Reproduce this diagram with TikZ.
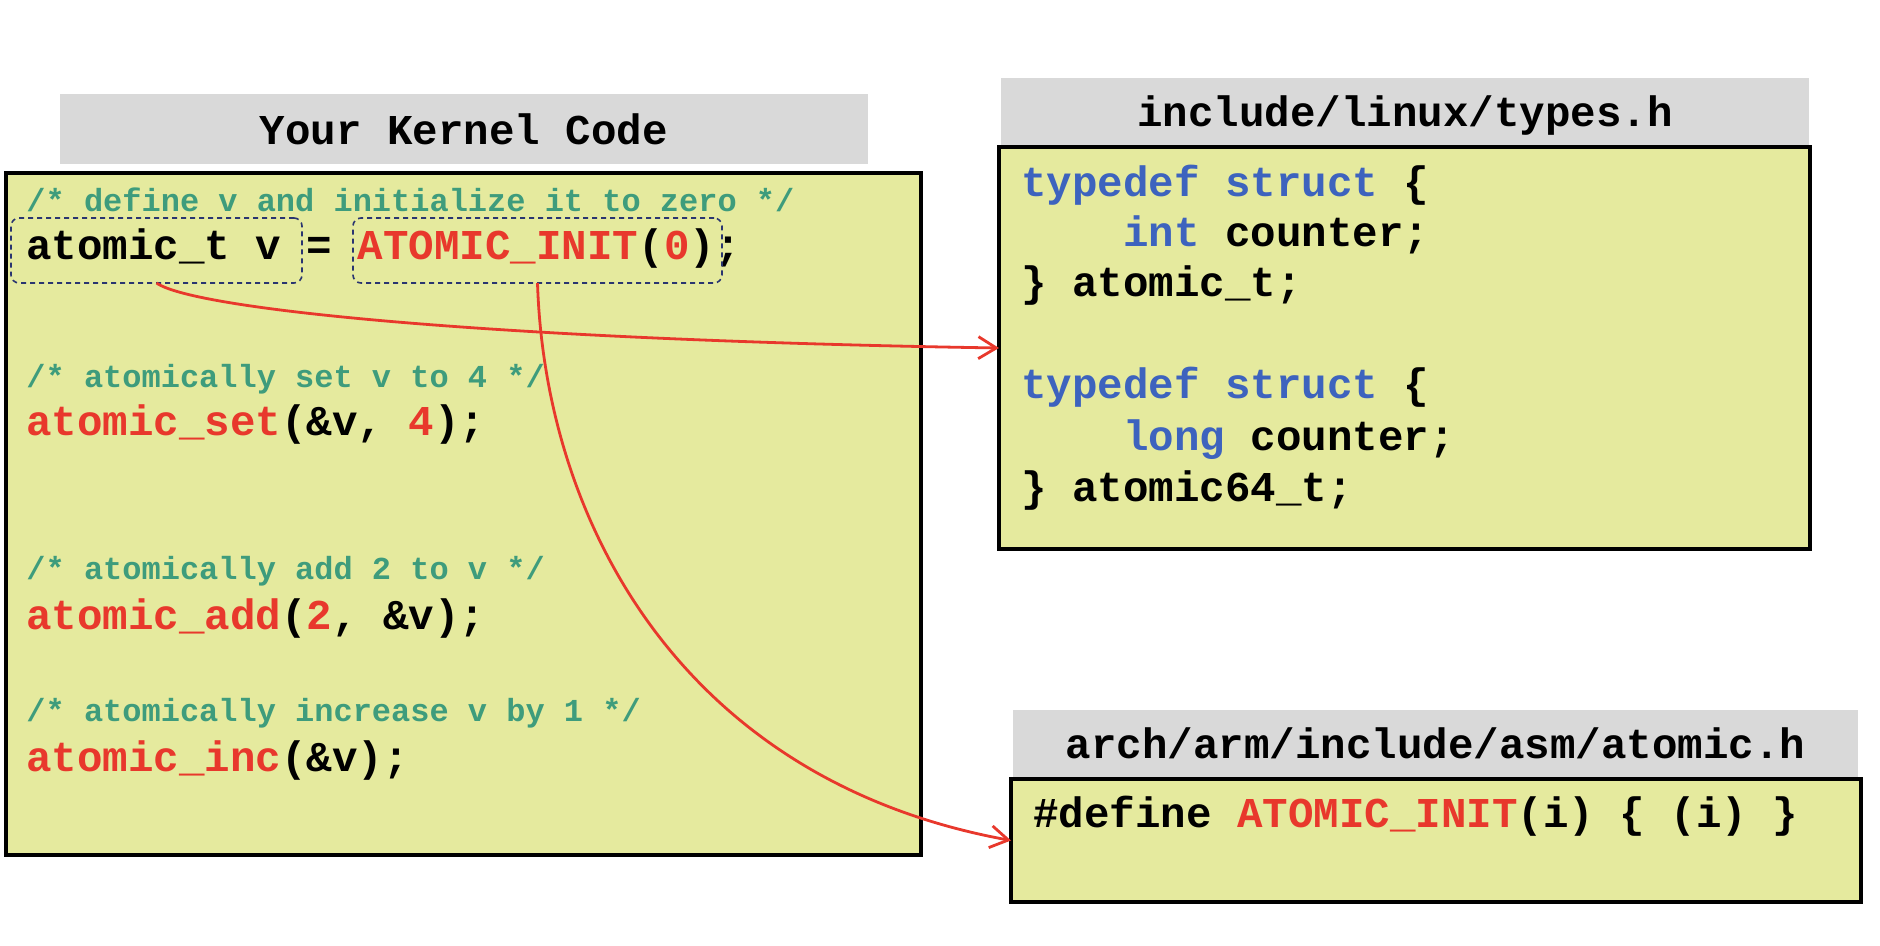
\documentclass[tikz,border=0pt]{standalone}
\usepackage{fontspec}
\setmonofont{Liberation Mono}
\usetikzlibrary{arrows.meta}
\definecolor{panelfill}{HTML}{E5EA9E}
\definecolor{headfill}{HTML}{D9D9D9}
\definecolor{cgreen}{HTML}{3E9C7C}
\definecolor{cred}{HTML}{E8382C}
\definecolor{cblue}{HTML}{3D63BE}
\definecolor{cnavy}{HTML}{2A3570}
\newcommand{\R}[1]{\textcolor{cred}{#1}}
\newcommand{\B}[1]{\textcolor{cblue}{#1}}
\tikzset{
  panel/.style={draw=black, line width=2.2pt, fill=panelfill, inner sep=0pt, outer sep=0pt},
  header/.style={fill=headfill, inner sep=0pt, outer sep=0pt},
  headtext/.style={inner sep=0pt, font=\fontsize{21.25}{24}\selectfont\ttfamily\bfseries},
  code/.style={anchor=base west, inner sep=0pt, font=\fontsize{21.25}{24}\selectfont\ttfamily\bfseries\frenchspacing},
  comment/.style={anchor=base west, inner sep=0pt, text=cgreen, font=\fontsize{16}{19}\selectfont\ttfamily\bfseries\frenchspacing},
  hl/.style={draw=cnavy, dash pattern=on 2.5pt off 2pt, line width=0.8pt, rounded corners=4pt, inner sep=0pt, outer sep=0pt},
  link/.style={draw=cred, line width=1.4pt, -{Straight Barb[length=9pt,width=11pt,line width=1.4pt]}}
}
\begin{document}
\begin{tikzpicture}[x=0.5pt,y=-0.5pt]
\useasboundingbox (0,0) rectangle (1880,946);
% headers
\node[header, minimum width=404pt, minimum height=35pt] (khead) at (464,129) {};
\node[headtext] (kheadt) at (khead.center) {Your Kernel Code};
\node[header, minimum width=404pt, minimum height=33.5pt] (thead) at (1405,111.5) {};
\node[headtext, yshift=-2pt] (theadt) at (thead.center) {include/linux/types.h};
\node[header, minimum width=422.5pt, minimum height=33.5pt] (ahead) at (1435.5,743.5) {};
\node[headtext] (aheadt) at (ahead.center) {arch/arm/include/asm/atomic.h};
% panels
\node[panel, minimum width=457.5pt, minimum height=341pt] (kbox) at (463.5,514) {};
\node[panel, minimum width=405.5pt, minimum height=201pt] (tbox) at (1404.5,348) {};
\node[panel, minimum width=425pt, minimum height=61.5pt] (abox) at (1436,840.5) {};
% kernel code
\node[comment] (c1) at (26,212) {/* define v and initialize it to zero */};
\node[code] (l1) at (26,260) {atomic\_t v = \R{ATOMIC\_INIT}(\R{0});};
\node[hl, minimum width=145.5pt, minimum height=32.5pt] (hv) at (156.5,250.5) {};
\node[hl, minimum width=184.5pt, minimum height=32.5pt] (hi) at (537.5,250.5) {};
\node[comment] (c2) at (26,388) {/* atomically set v to 4 */};
\node[code] (l2) at (26,436) {\R{atomic\_set}(\&v, \R{4});};
\node[comment] (c3) at (26,580) {/* atomically add 2 to v */};
\node[code] (l3) at (26,629) {\R{atomic\_add}(\R{2}, \&v);};
\node[comment] (c4) at (26,721) {/* atomically increase v by 1 */};
\node[code] (l4) at (26,771) {\R{atomic\_inc}(\&v);};
% types.h
\node[code] (t1) at (1021,197) {\B{typedef struct} \{};
\node[code] (t2) at (1123,247) {\B{int} counter;};
\node[code] (t3) at (1021,297) {\} atomic\_t;};
\node[code] (t4) at (1021,399) {\B{typedef struct} \{};
\node[code] (t5) at (1123,451) {\B{long} counter;};
\node[code] (t6) at (1021,502) {\} atomic64\_t;};
% atomic.h
\node[code] (a1) at (1033,827) {\#define \R{ATOMIC\_INIT}(i) \{ (i) \}};
% connectors
\draw[link] (hv.south) .. controls (195,310) and (500,340) .. (tbox.west);
\draw[link] (hi.south) .. controls (545,520) and (680,780) .. (abox.west);
\end{tikzpicture}
\end{document}
